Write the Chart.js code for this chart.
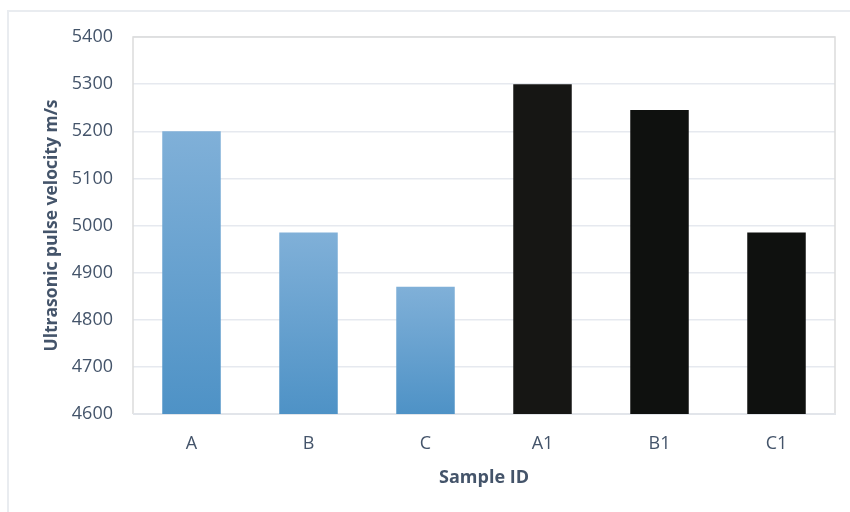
<!DOCTYPE html>
<html>
<head>
<meta charset="utf-8">
<script src="https://cdn.jsdelivr.net/npm/chart.js@4/dist/chart.umd.min.js"></script>
<style>
  html, body { margin: 0; padding: 0; background: #ffffff; }
  #frame {
    position: absolute; left: 7px; top: 10px; width: 900px; height: 560px;
    border: 2px solid #e9ecf0; box-sizing: border-box;
  }
  #wrap { position: absolute; left: 0; top: 0; width: 850px; height: 512px; }
</style>
</head>
<body>
<div id="frame"></div>
<div id="wrap"><canvas id="c" width="850" height="512"></canvas></div>
<script>
// Sample labels and measured pulse velocities (m/s)
const categories = ['A', 'B', 'C', 'A1', 'B1', 'C1'];
const velocities = [5200, 4985, 4870, 5300, 5245, 4985];
const yTicks = [4600, 4700, 4800, 4900, 5000, 5100, 5200, 5300, 5400];
const seriesGroups = ['blue', 'blue', 'blue', 'black', 'black', 'black'];

const textColor = '#44546a';

// Vertical gradient per bar, from the bar's top down to the axis
function barFill(ctx) {
  const chart = ctx.chart;
  const area = chart.chartArea;
  const idx = ctx.dataIndex;
  if (seriesGroups[idx] === 'black') {
    return idx === 3 ? '#161614' : '#0f110f';
  }
  if (!area) return '#6aa2d0';
  const yScale = chart.scales.y;
  const top = yScale.getPixelForValue(velocities[idx]);
  const bottom = yScale.getPixelForValue(yScale.min);
  const g = chart.ctx.createLinearGradient(0, top, 0, bottom);
  g.addColorStop(0, '#80b0d8');
  g.addColorStop(1, '#4e92c6');
  return g;
}

// Light frame round the plot area
const plotFrame = {
  id: 'plotFrame',
  beforeDatasetsDraw(chart) {
    const { ctx, chartArea: a } = chart;
    ctx.save();
    ctx.strokeStyle = '#dcdcdc';
    ctx.lineWidth = 1.5;
    ctx.beginPath();
    ctx.moveTo(a.left, a.bottom);
    ctx.lineTo(a.left, a.top);
    ctx.lineTo(a.right, a.top);
    ctx.lineTo(a.right, a.bottom);
    ctx.stroke();
    ctx.strokeStyle = '#e2e5ea';
    ctx.lineWidth = 2;
    ctx.beginPath();
    ctx.moveTo(a.left, a.bottom);
    ctx.lineTo(a.right + 1, a.bottom);
    ctx.stroke();
    ctx.restore();
  }
};

new Chart(document.getElementById('c'), {
  type: 'bar',
  data: {
    labels: categories,
    datasets: [{
      data: velocities,
      backgroundColor: barFill,
      borderWidth: 0,
      categoryPercentage: 1,
      barPercentage: 0.5
    }]
  },
  options: {
    responsive: false,
    animation: false,
    layout: { padding: { top: 37, right: 15, left: 0, bottom: 23 } },
    plugins: { legend: { display: false }, tooltip: { enabled: false } },
    scales: {
      x: {
        grid: { display: false, drawTicks: false },
        border: { display: false },
        ticks: {
          color: textColor,
          font: { family: 'Open Sans', size: 18 },
          padding: 19
        },
        title: {
          display: true,
          text: 'Sample ID',
          color: textColor,
          font: { family: 'Open Sans', size: 18, weight: 'bold' },
          padding: { top: 8, bottom: 0 }
        },
        afterFit(scale) { scale.height = 75; }
      },
      y: {
        min: 4600,
        max: 5400,
        afterBuildTicks(scale) { scale.ticks = yTicks.map(v => ({ value: v })); },
        grid: { color: '#e6e9ef', lineWidth: 1.5, drawTicks: false },
        border: { display: false },
        ticks: {
          color: textColor,
          font: { family: 'Open Sans', size: 18 },
          padding: 20,
          callback: (v) => String(v)
        },
        title: {
          display: true,
          text: 'Ultrasonic pulse velocity m/s',
          color: textColor,
          font: { family: 'Open Sans', size: 17.5, weight: 'bold' },
          padding: { top: 42, bottom: 0 }
        },
        afterFit(scale) { scale.width = 133; }
      }
    }
  },
  plugins: [plotFrame]
});
</script>
</body>
</html>
